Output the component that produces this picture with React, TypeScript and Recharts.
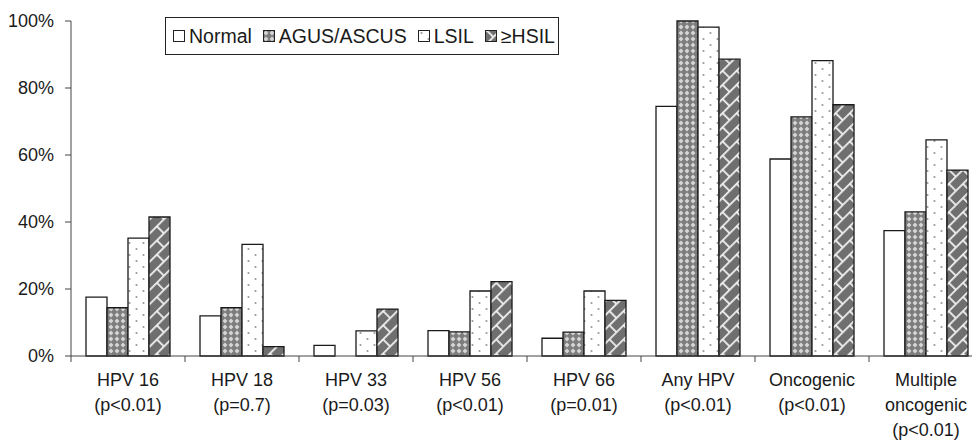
import React from 'react';
import { BarChart, Bar, XAxis, YAxis, Legend } from 'recharts';

const categories = [
  'HPV 16\n(p<0.01)',
  'HPV 18\n(p=0.7)',
  'HPV 33\n(p=0.03)',
  'HPV 56\n(p<0.01)',
  'HPV 66\n(p=0.01)',
  'Any HPV\n(p<0.01)',
  'Oncogenic\n(p<0.01)',
  'Multiple\noncogenic\n(p<0.01)',
];
const normal = [17.6, 12, 3.2, 7.6, 5.3, 74.5, 58.8, 37.4];
const agusAscus = [14.4, 14.4, 0, 7.2, 7.1, 100, 71.4, 43];
const lsil = [35.2, 33.3, 7.5, 19.4, 19.4, 98.2, 88.2, 64.5];
const hsil = [41.5, 2.8, 14, 22.2, 16.6, 88.6, 75, 55.5];
const yTicks = [0, 20, 40, 60, 80, 100];

const seriesNames = ['Normal', 'AGUS/ASCUS', 'LSIL', '≥HSIL'];
const fills = ['#ffffff', 'url(#agus)', 'url(#lsil)', 'url(#hsil)'];
const keys = ['normal', 'agus', 'lsil', 'hsil'];

const data = categories.map((c, i) => ({
  name: c,
  normal: normal[i],
  agus: agusAscus[i],
  lsil: lsil[i],
  hsil: hsil[i],
}));

const FONT = '"Liberation Sans", Arial, sans-serif';
const TEXT = '#1a1a1a';
const AXIS = '#444';

// category label with a tick at the left edge of the band
const CategoryTick = (props: any) => {
  const { x, y, payload } = props;
  const half = payload.offset || 57;
  const lines = String(payload.value).split('\n');
  return (
    <g>
      <line x1={x - half} y1={y} x2={x - half} y2={y + 6} stroke={AXIS} strokeWidth={1} />
      {lines.map((l, i) => (
        <text key={i} x={x} y={y + 30 + i * 25} textAnchor="middle" fontSize={18} fill={TEXT} fontFamily={FONT}>
          {l}
        </text>
      ))}
    </g>
  );
};

const LegendBox = () => (
  <div
    style={{
      display: 'flex',
      alignItems: 'center',
      height: 36,
      border: '1px solid #222',
      padding: '0 3px 0 7px',
      fontFamily: FONT,
      fontSize: 19.5,
      color: TEXT,
      background: '#fff',
      whiteSpace: 'nowrap',
    }}
  >
    {seriesNames.map((n, i) => (
      <span key={n} style={{ display: 'flex', alignItems: 'center', marginRight: i < 3 ? 11 : 0 }}>
        <svg width={12} height={12} style={{ marginRight: 4 }}>
          <rect x={0.5} y={0.5} width={11} height={11} fill={fills[i]} stroke="#222" strokeWidth={1} />
        </svg>
        {n}
      </span>
    ))}
  </div>
);

export default function App() {
  return (
    <div style={{ position: 'absolute', left: 0, top: 0, width: 972, height: 442, overflow: 'hidden', background: '#fff' }}>
      <BarChart
        width={990}
        height={442}
        data={data}
        margin={{ top: 21, right: 7, left: 0, bottom: 0 }}
        barCategoryGap={15}
        barGap={0}
        style={{ fontFamily: FONT }}
      >
        <defs>
          <pattern id="agus" width={6} height={6} patternUnits="userSpaceOnUse">
            <rect width={6} height={6} fill="#7d7d7d" />
            <path d="M3 0.6 L5.4 3 L3 5.4 L0.6 3 Z" fill="#d6d6d6" />
          </pattern>
          <pattern id="lsil" width={14} height={12} patternUnits="userSpaceOnUse">
            <rect width={14} height={12} fill="#ffffff" />
            <circle cx={3.5} cy={3} r={1.1} fill="#999" />
            <circle cx={10.5} cy={9} r={1.1} fill="#999" />
          </pattern>
          <pattern id="hsil" width={20} height={20} patternUnits="userSpaceOnUse" patternTransform="rotate(-45)">
            <rect width={20} height={20} fill="#6f6f6f" />
            <line x1={0} y1={0.9} x2={20} y2={0.9} stroke="#f0f0f0" strokeWidth={1.8} />
            <line x1={0} y1={10.9} x2={20} y2={10.9} stroke="#f0f0f0" strokeWidth={1.8} />
            <line x1={0.9} y1={0} x2={0.9} y2={10} stroke="#f0f0f0" strokeWidth={1.8} />
            <line x1={10.9} y1={10} x2={10.9} y2={20} stroke="#f0f0f0" strokeWidth={1.8} />
          </pattern>
        </defs>
        <XAxis
          dataKey="name"
          height={86}
          interval={0}
          tickSize={0}
          tickMargin={0}
          tickLine={false}
          stroke={AXIS}
          tick={<CategoryTick />}
        />
        <YAxis
          width={71}
          domain={[0, 100]}
          ticks={yTicks}
          tickFormatter={(v) => `${v}%`}
          tickSize={6}
          tickMargin={11}
          stroke={AXIS}
          tick={{ fill: TEXT, fontSize: 18, fontFamily: FONT }}
        />
        <Legend
          layout="horizontal"
          verticalAlign="middle"
          align="center"
          content={<LegendBox />}
          wrapperStyle={{ left: 165, top: 17, width: 'auto', height: 'auto' }}
        />
        {keys.map((k, i) => (
          <Bar
            key={k}
            dataKey={k}
            name={seriesNames[i]}
            fill={fills[i]}
            stroke="#1a1a1a"
            strokeWidth={1.3}
            isAnimationActive={false}
          />
        ))}
      </BarChart>
    </div>
  );
}
